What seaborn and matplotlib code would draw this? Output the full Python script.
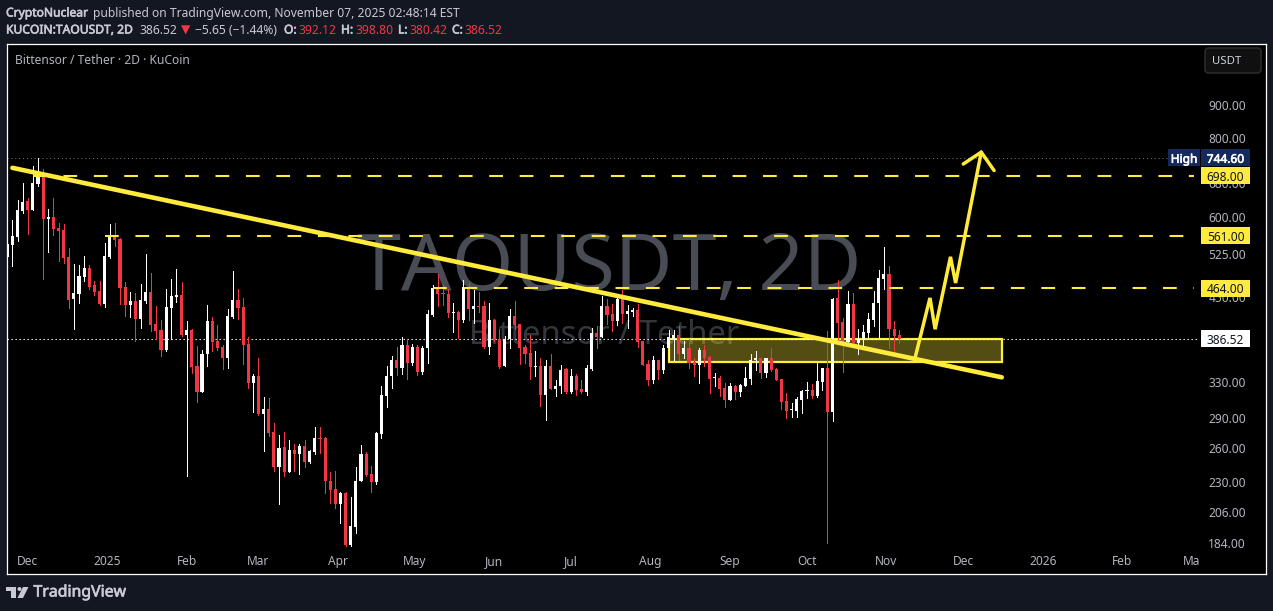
import numpy as np
import pandas as pd
import seaborn as sns
import matplotlib
matplotlib.use('Agg')
import matplotlib.pyplot as plt
import matplotlib.dates as mdates
import matplotlib.patheffects as pe
from matplotlib.patches import Polygon, Circle, Rectangle, FancyBboxPatch
from matplotlib.transforms import Affine2D, Bbox

W, H = 1273, 611
BG = '#131722'
YELLOW = '#ffeb3b'
RED = '#f23645'
GREY = '#b2b5be'

# candles, 2D bars
first_bar = '2024-11-23'
opens = [520,543,559,614,637,616,677,697,597,601,
         578,573,520,446,454,483,499,470,459,438,
         520,559,555,466,437,443,415,443,458,408,
         399,371,432,450,453,392,399,350,319,365,
         412,383,375,360,418,445,433,379,329,337,
         294,300,276,243,261,238,258,254,262,247,
         256,270,270,231,224,212,221,183,195,231,
         254,237,230,274,314,337,358,348,378,354,
         375,342,373,421,464,456,454,424,426,414,
         466,430,435,435,375,414,386,350,386,419,
         408,375,367,349,350,315,350,322,325,346,
         318,337,322,319,346,395,389,435,423,412,
         446,423,426,429,383,353,333,358,345,373,
         386,392,365,374,355,351,371,362,335,335,
         323,309,325,318,326,334,358,360,341,360,
         346,334,308,298,297,309,320,321,314,330,
         348,296,448,411,382,438,381,385,395,414,
         440,480,489,400,392.12]
highs = [565,594,639,680,644,723,744.6,715,618,644,
         588,586,537,507,505,522,505,476,476,547,
         586,588,557,475,458,456,471,525,490,435,
         414,463,480,498,475,412,400,377,371,437,
         418,406,378,430,494,463,448,389,340,361,
         313,312,285,273,276,268,264,264,268,258,
         281,281,271,238,239,222,222,218,243,263,
         256,244,276,326,350,363,375,389,386,379,
         378,377,429,470,489,470,463,440,427,478,
         473,461,458,443,440,415,400,390,430,443,
         408,378,392,369,360,358,365,333,351,348,
         346,340,333,351,402,405,451,446,438,448,
         461,437,432,438,383,358,363,358,378,399,
         399,405,383,386,361,374,378,363,341,337,
         329,329,327,328,349,365,370,361,361,374,
         348,334,317,306,313,321,330,328,354,348,
         397,448,478,416,459,456,400,406,424,459,
         496,539,503,412,398.80]
lows = [485,503,551,610,565,616,672,480,529,563,
        512,508,432,400,440,476,463,453,437,433,
        518,541,438,419,418,383,402,440,397,386,
        363,370,386,441,390,235,341,307,318,350,
        370,371,346,348,416,415,353,323,296,293,
        257,272,239,212,235,238,239,237,243,246,
        254,255,221,213,209,198,182,182,191,231,
        235,222,228,270,302,323,339,340,334,351,
        339,340,354,419,435,437,418,396,388,411,
        414,409,426,374,366,383,348,350,374,400,
        353,354,334,337,303,288,322,314,317,317,
        317,315,317,315,345,374,389,408,397,406,
        409,402,419,375,351,327,329,334,341,358,
        358,358,361,348,337,329,350,317,325,314,
        302,309,311,314,326,328,345,335,336,344,
        333,300,290,291,291,295,312,312,313,321,
        184,287,381,342,379,381,366,378,389,405,
        389,463,373,367,380.42]
closes = [545,561,616,634,616,680,694,597,601,575,
          571,518,445,456,485,499,466,458,438,522,
          561,553,464,437,443,415,445,458,406,397,
          371,433,451,453,392,399,349,319,366,412,
          382,374,360,419,445,432,378,329,337,294,
          300,275,243,260,238,258,254,262,247,257,
          270,269,231,223,212,221,183,196,231,254,
          236,230,275,315,337,358,348,378,354,375,
          342,374,423,464,454,454,424,426,414,466,
          430,435,433,375,414,385,349,386,419,406,
          374,366,349,350,315,350,322,326,345,318,
          337,321,319,348,395,389,435,421,412,446,
          423,427,429,382,351,333,358,345,374,389,
          392,365,374,354,351,371,360,334,336,322,
          309,325,318,327,335,358,360,341,360,345,
          333,307,297,300,311,320,321,314,331,348,
          296,446,409,382,438,381,386,396,415,440,
          482,489,400,390,386.52]

# axis labels
price_ticks = [900, 800, 680, 600, 525, 450, 330, 290, 260, 230, 206, 184]
month_ticks = ['2024-12-01','2025-01-01','2025-02-01','2025-03-01','2025-04-01','2025-05-01',
               '2025-06-01','2025-07-01','2025-08-01','2025-09-01','2025-10-01','2025-11-01',
               '2025-12-01','2026-01-01','2026-02-01','2026-03-01']
month_labels = ['Dec','2025','Feb','Mar','Apr','May','Jun','Jul','Aug','Sep','Oct','Nov','Dec','2026','Feb','Mar']

# drawings on the chart
levels = [698.0, 561.0, 464.0]
level_starts = ['2024-12-03', '2024-12-31', '2025-05-08']
level_end = '2026-03-01'
high_price = 744.60
last_price = 386.52
trend_dates = ['2024-11-25', '2025-12-16']
trend_prices = [718, 336]
zone_dates = ['2025-08-08', '2025-12-16']
zone_prices = [355, 386.5]
path_dates = ['2025-11-12','2025-11-18','2025-11-20','2025-11-26','2025-11-28','2025-12-08']
path_prices = [358, 448, 400, 520, 473, 760]
head_dates = ['2025-12-01','2025-12-08','2025-12-13']
head_prices = [728, 760, 711]


def num(d):
    return mdates.date2num(pd.to_datetime(d))


def bold(col, w=0.45):
    return [pe.withStroke(linewidth=w, foreground=col)]


sns.set_theme(style='dark', rc={'axes.facecolor': 'black', 'figure.facecolor': BG,
                                'axes.edgecolor': 'white', 'axes.linewidth': 0.9})
plt.rcParams['font.family'] = ['Noto Sans', 'DejaVu Sans']

fig = plt.figure(figsize=(W / 100, H / 100), dpi=100)
ax = fig.add_axes([6.5 / W, (H - 574) / H, 1259.5 / W, 530.5 / H])
px = Affine2D().scale(1 / W, -1 / H).translate(0, 1) + fig.transFigure

df = pd.DataFrame({'open': opens, 'high': highs, 'low': lows, 'close': closes})
df['date'] = num(pd.date_range(first_bar, periods=len(df), freq='2D'))
df['up'] = df['close'] >= df['open']
df['color'] = np.where(df['up'], 'white', RED)

ax.set_yscale('log')
start = num(first_bar)
ax.set_xlim(start - 0.3, start + 491.1)
ax.set_ylim(164.7, 1126.8)

# watermark
ax.text(609, 270, 'TAOUSDT, 2D', transform=px, ha='center', va='center', fontsize=57,
        color='#4a4c55', zorder=1)
ax.text(604, 336, 'Bittensor / Tether', transform=px, ha='center', va='center', fontsize=23.6,
        color='#34363d', zorder=1)

# zone under the candles
ax.fill_between(num(zone_dates), zone_prices[0], zone_prices[1], color=YELLOW, alpha=0.33,
                linewidth=0, zorder=1.5)
ax.add_patch(Rectangle((num(zone_dates[0]), zone_prices[0]),
                       num(zone_dates[1]) - num(zone_dates[0]), zone_prices[1] - zone_prices[0],
                       fill=False, edgecolor=YELLOW, linewidth=1.6, zorder=1.6))

# dotted price lines
ax.hlines(high_price, start - 0.3, num(level_end) + 2, color='#787b86', linewidth=0.7,
          linestyles=(0, (1, 3)), zorder=1.7)
ax.hlines(last_price, start - 0.3, num(level_end) + 2, color='white', linewidth=0.8,
          linestyles=(0, (1.2, 2.4)), zorder=1.7)

# candles
ax.vlines(df['date'], df['low'], df['high'], colors=df['color'], linewidth=0.6,
          antialiased=False, zorder=2)
ax.bar(df['date'], (df['close'] - df['open']).abs(), bottom=df[['open', 'close']].min(axis=1),
       width=1.22, color=df['color'], linewidth=0, antialiased=False, zorder=2.1)

# levels
for lv, st in zip(levels, level_starts):
    ax.hlines(lv, num(st), num(level_end), color=YELLOW, linewidth=1.5,
              linestyles=(0, (6.6, 8)), zorder=3)

# trend line and projected path
sns.lineplot(x=num(trend_dates), y=trend_prices, color=YELLOW, linewidth=3.3, ax=ax,
             solid_capstyle='round', zorder=3.2)
sns.lineplot(x=num(path_dates), y=path_prices, sort=False, estimator=None, color=YELLOW,
             linewidth=2.5, ax=ax, solid_joinstyle='miter', zorder=3.2)
sns.lineplot(x=num(head_dates), y=head_prices, sort=False, estimator=None, color=YELLOW,
             linewidth=2.5, ax=ax, solid_capstyle='round', zorder=3.2)

# axes
ax.set_xticks(num(month_ticks))
ax.set_xticklabels(month_labels)
ax.tick_params(axis='x', length=0, pad=-14, labelsize=8.6, labelcolor=GREY)
ax.yaxis.tick_right()
ax.set_yticks(price_ticks)
ax.set_yticklabels(['%.2f' % p for p in price_ticks])
ax.minorticks_off()
ax.tick_params(axis='y', length=0, pad=-41.5, labelsize=8.6, labelcolor=GREY)
ax.set_xlabel('')
ax.set_ylabel('')
ax.grid(False)
clip = Bbox([[6, 0], [1199, H]])
for lab in ax.get_xticklabels():
    lab.set_clip_box(clip)
    lab.set_clip_on(True)

# price tags
tag_x = (1225.5 - 6.5) / 1259.5
ytrans = ax.get_yaxis_transform()


def price_y(p):
    return ax.transData.transform((start, p))[1]


def tag_box(x, width, price, col):
    ax.add_patch(Rectangle((x, price_y(price) - 8.5), width, 17, transform=None, fc=col,
                           ec='none', zorder=5, clip_on=False))


for lv in levels:
    tag_box(1201, 49, lv, YELLOW)
    ax.text(tag_x, lv, '%.2f' % lv, transform=ytrans, ha='center', va='center_baseline',
            fontsize=8.6, color=BG, zorder=6)

tag_box(1201, 49, high_price, '#142a5c')
tag_box(1168, 32, high_price, '#142a5c')
ax.text(tag_x, high_price, '744.60', transform=ytrans, ha='center', va='center_baseline',
        fontsize=8.6, color='white', zorder=6, path_effects=bold('white'))
ax.text((1184 - 6.5) / 1259.5, high_price, 'High', transform=ytrans, ha='center',
        va='center_baseline', fontsize=8.6, color='white', zorder=6, path_effects=bold('white'))
tag_box(1201, 49, last_price, 'white')
ax.text(tag_x, last_price, '386.52', transform=ytrans, ha='center', va='center_baseline',
        fontsize=8.6, color=BG, zorder=6)

# legend text and currency button
ax.text(15, 60, 'Bittensor / Tether · 2D · KuCoin', transform=px, ha='left', va='center',
        fontsize=8.7, color=GREY, zorder=6)
fig.add_artist(FancyBboxPatch((1205, 48), 56, 25, boxstyle='round,pad=0,rounding_size=4',
                              transform=px, fc='#101010', ec='#2a2a2a', linewidth=1.2))
fig.text(1227, 61, 'USDT', transform=px, ha='center', va='center', fontsize=8.2, color='#d1d4dc')

# header
HEAD = '#c8cad2'
fs = 8.7
fig.text(6, 13, 'CryptoNuclear', transform=px, fontsize=fs, color=HEAD, va='center', path_effects=bold(HEAD))
fig.text(93, 13, 'published on TradingView.com, November 07, 2025 02:48:14 EST', transform=px,
         fontsize=fs, color=HEAD, va='center')
fig.text(6, 30, 'KUCOIN:TAOUSDT, 2D', transform=px, fontsize=fs, color=HEAD, va='center', path_effects=bold(HEAD))
fig.text(139, 30, '386.52', transform=px, fontsize=fs, color=HEAD, va='center')
fig.text(181, 30, '▼', transform=px, fontsize=fs, color=RED, va='center')
fig.text(195, 30, '−5.65 (−1.44%)', transform=px, fontsize=fs, color=HEAD, va='center')
for lx, vx, name, val in [(284, 298, 'O:', '392.12'), (341, 355, 'H:', '398.80'),
                          (398, 409, 'L:', '380.42'), (452, 464, 'C:', '386.52')]:
    fig.text(lx, 30, name, transform=px, fontsize=fs, color=HEAD, va='center', path_effects=bold(HEAD))
    fig.text(vx, 30, val, transform=px, fontsize=fs, color=RED, va='center')

# footer logo
LOGO = '#c8cad2'
fig.add_artist(Polygon([(6, 587), (16, 587), (16, 598), (11, 598), (11, 591), (6, 591)],
                       transform=px, fc=LOGO, ec='none'))
fig.add_artist(Circle((19.5, 589), 2, transform=px, fc=LOGO, ec='none'))
fig.add_artist(Polygon([(23, 587), (28.5, 587), (23, 598), (17.5, 598)], transform=px, fc=LOGO, ec='none'))
fig.text(33.5, 592.5, 'TradingView', transform=px, fontsize=11.4, color=LOGO, va='center',
         path_effects=bold(LOGO, 0.5))

fig.savefig('out.png', dpi=100, facecolor=BG)
